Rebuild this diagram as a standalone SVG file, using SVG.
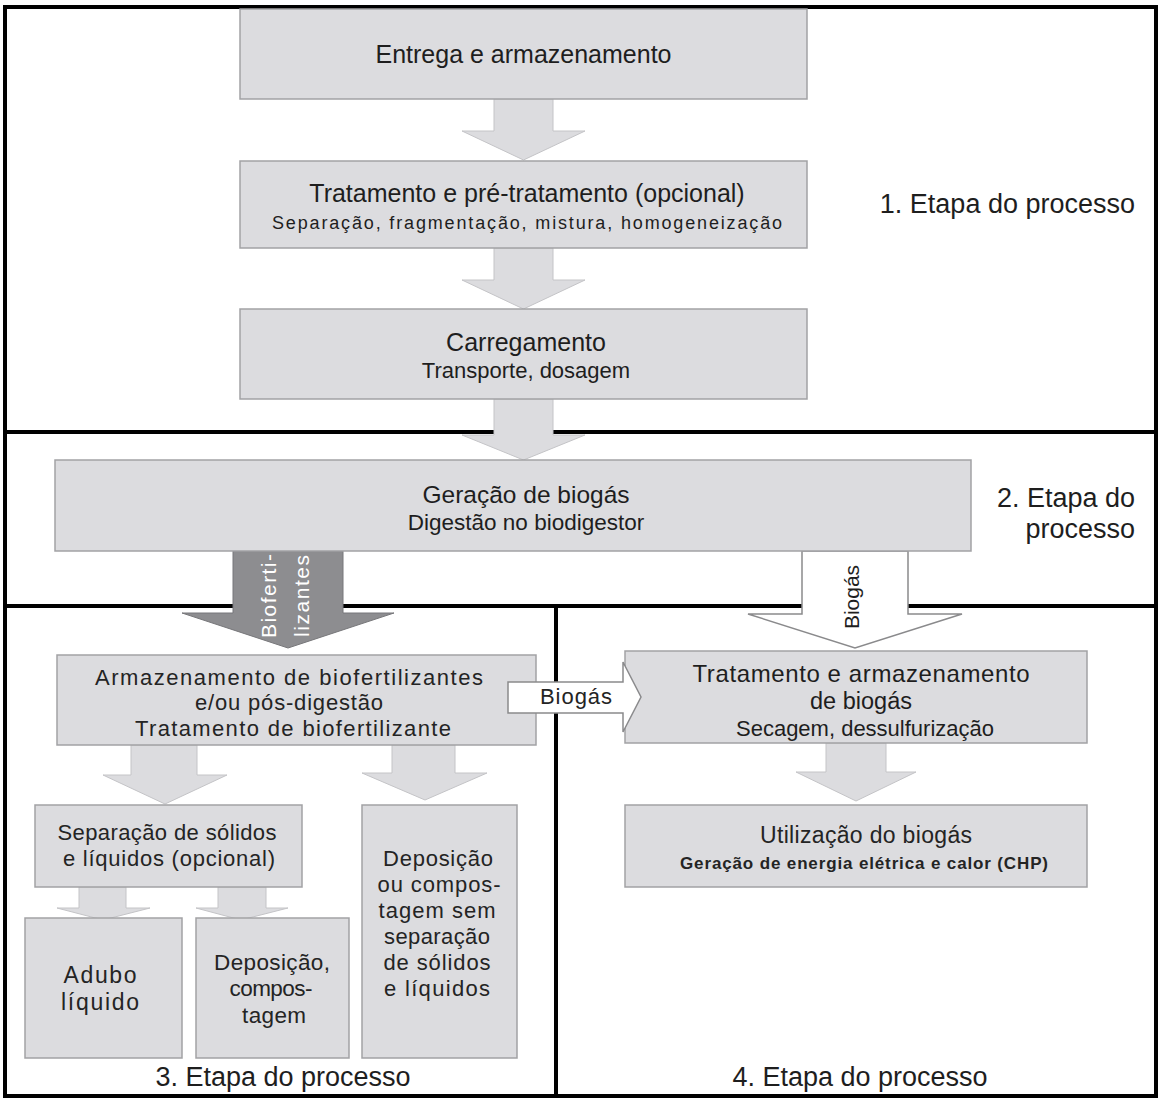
<svg xmlns="http://www.w3.org/2000/svg" width="1163" height="1103" viewBox="0 0 1163 1103">
<style>
.box{fill:#dcdcdf;stroke:#a2a2a5;stroke-width:1.5}
.arr{fill:#dcdcdf;stroke:#c4c4c7;stroke-width:1}
.arr-dark{fill:#8d8d90;stroke:#77777a;stroke-width:1}
.arr-white{fill:#ffffff;stroke:#8a8a8c;stroke-width:1.5}
.line{stroke:#000;stroke-width:4;fill:none}
.ta{font-family:"Liberation Sans",Arial,sans-serif;fill:#1e1e1e;text-anchor:middle}
.tm{font-family:"Liberation Sans",Arial,sans-serif;fill:#242424;text-anchor:middle}
.stage{font-family:"Liberation Sans",Arial,sans-serif;fill:#1e1e1e;font-size:27px}
</style>
<rect width="1163" height="1103" fill="#ffffff"/>
<g id="frame">
<rect class="line" x="5" y="7" width="1151" height="1089"/>
<line class="line" x1="5" y1="432" x2="1157" y2="432"/>
<line class="line" x1="5" y1="606" x2="1157" y2="606"/>
<line class="line" x1="556" y1="606" x2="556" y2="1096" stroke-width="3"/>
</g>
<g id="connectors">
<polygon class="arr" points="494,99 553,99 553,131 585,131 523.5,160 462,131 494,131"/>
<polygon class="arr" points="494,248 553,248 553,280 585,280 523.5,309 462,280 494,280"/>
<polygon class="arr" points="494,399 553,399 553,435 585,435 523.5,460 462,435 494,435"/>
<polygon class="arr-dark" points="233,551 343,551 343,613 394,613 288,648 182,613 233,613"/>
<text class="tm" font-size="21" style="fill:#ffffff" transform="translate(276,596) rotate(-90)" textLength="84" lengthAdjust="spacing">Bioferti-</text>
<text class="tm" font-size="21" style="fill:#ffffff" transform="translate(309,596) rotate(-90)" textLength="82" lengthAdjust="spacing">lizantes</text>
<polygon class="arr-white" points="802,551 908,551 908,614 962,614 855,648 748,614 802,614"/>
<text class="ta" font-size="21" transform="translate(859,597) rotate(-90)">Biogás</text>
<polygon class="arr" points="131,745 197,745 197,775 227,775 165,804 103,775 131,775"/>
<polygon class="arr" points="392,745 455,745 455,773 487,773 425,800 362,773 392,773"/>
<polygon class="arr" points="79,887 126,887 126,908 150,908 103,920 57,908 79,908"/>
<polygon class="arr" points="218,887 266,887 266,908 288,908 241,920 196,908 218,908"/>
<polygon class="arr" points="826,743 886,743 886,772 916,772 856,801 796,772 826,772"/>
</g>
<g id="n-entrega">
<rect class="box" x="240" y="9" width="567" height="90"/>
<text class="ta" font-size="25" x="523.5" y="63">Entrega e armazenamento</text>
</g>
<g id="n-tratamento">
<rect class="box" x="240" y="161" width="567" height="87"/>
<text class="ta" font-size="25" x="527" y="202">Tratamento e pré-tratamento (opcional)</text>
<text class="ta" font-size="18" x="527" y="229" textLength="510" lengthAdjust="spacing">Separação, fragmentação, mistura, homogeneização</text>
</g>
<g id="n-carregamento">
<rect class="box" x="240" y="309" width="567" height="90"/>
<text class="ta" font-size="25" x="526" y="351">Carregamento</text>
<text class="ta" font-size="22" x="526" y="378">Transporte, dosagem</text>
</g>
<g id="n-geracao">
<rect class="box" x="55" y="460" width="916" height="91"/>
<text class="ta" font-size="24.5" x="526" y="503">Geração de biogás</text>
<text class="ta" font-size="22.5" x="526" y="530">Digestão no biodigestor</text>
</g>
<g id="n-armazenamento">
<rect class="box" x="57" y="655" width="479" height="90"/>
<text class="tm" font-size="22" x="289" y="685" textLength="388" lengthAdjust="spacing">Armazenamento de biofertilizantes</text>
<text class="tm" font-size="22" x="289" y="710" textLength="188" lengthAdjust="spacing">e/ou pós-digestão</text>
<text class="tm" font-size="22" x="293" y="736" textLength="316" lengthAdjust="spacing">Tratamento de biofertilizante</text>
</g>
<g id="n-separacao">
<rect class="box" x="35" y="805" width="267" height="82"/>
<text class="tm" font-size="22" x="167" y="840" textLength="219" lengthAdjust="spacing">Separação de sólidos</text>
<text class="tm" font-size="22" x="169" y="866" textLength="212" lengthAdjust="spacing">e líquidos (opcional)</text>
</g>
<g id="n-deposicao-sem">
<rect class="box" x="362" y="805" width="155" height="253"/>
<text class="tm" font-size="22" x="438" y="866" textLength="110" lengthAdjust="spacing">Deposição</text>
<text class="tm" font-size="22" x="439" y="892" textLength="123" lengthAdjust="spacing">ou compos-</text>
<text class="tm" font-size="22" x="437" y="918" textLength="117" lengthAdjust="spacing">tagem sem</text>
<text class="tm" font-size="22" x="437" y="944" textLength="106" lengthAdjust="spacing">separação</text>
<text class="tm" font-size="22" x="437" y="970" textLength="107" lengthAdjust="spacing">de sólidos</text>
<text class="tm" font-size="22" x="437" y="996" textLength="106" lengthAdjust="spacing">e líquidos</text>
</g>
<g id="n-adubo">
<rect class="box" x="25" y="918" width="157" height="140"/>
<text class="tm" font-size="23" x="100" y="983" textLength="73" lengthAdjust="spacing">Adubo</text>
<text class="tm" font-size="23" x="100" y="1010" textLength="78" lengthAdjust="spacing">líquido</text>
</g>
<g id="n-deposicao">
<rect class="box" x="196" y="918" width="153" height="140"/>
<text class="tm" font-size="22.5" x="272" y="970" textLength="116" lengthAdjust="spacing">Deposição,</text>
<text class="tm" font-size="22.5" x="271" y="996" textLength="83" lengthAdjust="spacing">compos-</text>
<text class="tm" font-size="22.5" x="274" y="1023" textLength="64" lengthAdjust="spacing">tagem</text>
</g>
<g id="n-trat-biogas">
<rect class="box" x="625" y="651" width="462" height="92"/>
<text class="ta" font-size="24" x="861" y="682" textLength="337" lengthAdjust="spacing">Tratamento e armazenamento</text>
<text class="ta" font-size="23.5" x="861" y="709">de biogás</text>
<text class="ta" font-size="22" x="865" y="736">Secagem, dessulfurização</text>
</g>
<g id="n-utilizacao">
<rect class="box" x="625" y="805" width="462" height="82"/>
<text class="tm" font-size="23" x="866" y="843" textLength="212" lengthAdjust="spacing">Utilização do biogás</text>
<text class="tm" font-size="17" font-weight="bold" x="864" y="869" textLength="368" lengthAdjust="spacing">Geração de energia elétrica e calor (CHP)</text>
</g>
<g id="biogas-horizontal">
<polygon class="arr-white" points="508,682 623,682 623,662 641,697 623,732 623,713 508,713"/>
<text class="tm" font-size="22" x="576" y="704" textLength="72" lengthAdjust="spacing">Biogás</text>
</g>
<g id="stage-labels">
<text class="stage" x="1135" y="213" text-anchor="end">1. Etapa do processo</text>
<text class="stage" x="1135" y="507" text-anchor="end">2. Etapa do</text>
<text class="stage" x="1135" y="538" text-anchor="end">processo</text>
<text class="stage" x="283" y="1086" text-anchor="middle">3. Etapa do processo</text>
<text class="stage" x="860" y="1086" text-anchor="middle">4. Etapa do processo</text>
</g>
</svg>
